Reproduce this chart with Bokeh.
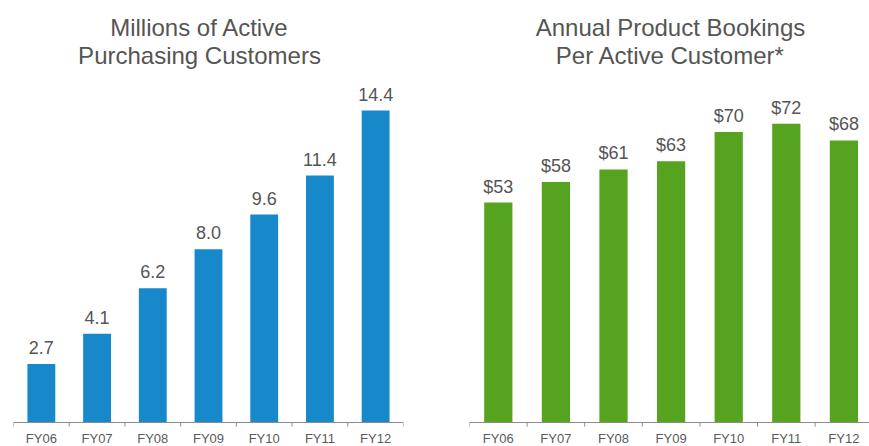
from bokeh.plotting import figure
from bokeh.layouts import row
from bokeh.models import ColumnDataSource, Label, LabelSet, Span
from bokeh.core.properties import value
from bokeh.embed import file_html
from bokeh.resources import INLINE

categories = ["FY06", "FY07", "FY08", "FY09", "FY10", "FY11", "FY12"]
customers = [2.7, 4.1, 6.2, 8.0, 9.6, 11.4, 14.4]
customer_labels = ["2.7", "4.1", "6.2", "8.0", "9.6", "11.4", "14.4"]
bookings = [53, 58, 61, 63, 70, 72, 68]
booking_labels = ["$53", "$58", "$61", "$63", "$70", "$72", "$68"]

FONT = "Liberation Sans"
TXT = "#555555"
AXIS = "#8c8c8c"
H = 446          # canvas height, frame fills it
AXIS_PX = 422    # pixel row of the baseline (from canvas top)
TICK_PX = 4


def make_panel(values, labels, color, title_lines, width, left, right, x_end,
               top_px, bar_w, title_x):
    n = len(values)
    xs = [i + 0.5 for i in range(n)]
    ppu = (AXIS_PX - top_px) / max(values)          # px per data unit
    y_end = AXIS_PX / ppu
    y_start = -(H - AXIS_PX) / ppu
    xpu = (width - left - right) / x_end
    src = ColumnDataSource(dict(x=xs, top=values, lab=labels, cat=categories,
                                zero=[0] * n))
    p = figure(width=width, height=H, x_range=(0, x_end), y_range=(y_start, y_end),
               output_backend="svg", toolbar_location=None,
               min_border_left=left, min_border_right=right,
               min_border_top=0, min_border_bottom=0)
    p.xaxis.visible = False
    p.yaxis.visible = False
    p.outline_line_color = None
    p.grid.grid_line_color = None

    p.vbar(x="x", top="top", bottom=0, width=bar_w, source=src, color=color,
           line_color=None)
    # baseline axis with boundary ticks
    p.add_layout(Span(location=0, dimension="width", line_color=AXIS, line_width=1))
    bounds = list(range(n + 1))
    p.segment(x0=bounds, x1=bounds, y0=[0] * (n + 1),
              y1=[-TICK_PX / ppu] * (n + 1), line_color=AXIS, line_width=1)
    p.add_layout(LabelSet(x="x", y="zero", text="cat", source=src, text_align="center",
                          text_baseline="alphabetic", y_offset=-20,
                          text_font=value(FONT), text_font_size=value("13px"),
                          text_color=value("#5a5a5a")))
    # value labels
    p.add_layout(LabelSet(x="x", y="top", text="lab", source=src, text_align="center",
                          text_baseline="alphabetic", y_offset=10, text_font=value(FONT),
                          text_font_size=value("18px"), text_color=value(TXT)))
    for i, t in enumerate(title_lines):
        p.add_layout(Label(x=(title_x - left) / xpu, y=(AXIS_PX - (27 + 28 * i)) / ppu,
                           text=t, text_align="center", text_baseline="alphabetic",
                           text_font=FONT, text_font_size="24px", text_color=TXT))
    return p


p1 = make_panel(customers, customer_labels, "#1789CB",
                ["Millions of Active", "Purchasing Customers"],
                width=438, left=13, right=35, x_end=7, top_px=110,
                bar_w=0.5, title_x=199)
p2 = make_panel(bookings, booking_labels, "#55A31F",
                ["Annual Product Bookings", "Per Active Customer*"],
                width=431, left=31, right=0, x_end=400 / 57.6, top_px=123.3,
                bar_w=0.49, title_x=232)

layout = row(p1, p2, spacing=0)
open("out.html", "w").write(file_html(layout, INLINE))
